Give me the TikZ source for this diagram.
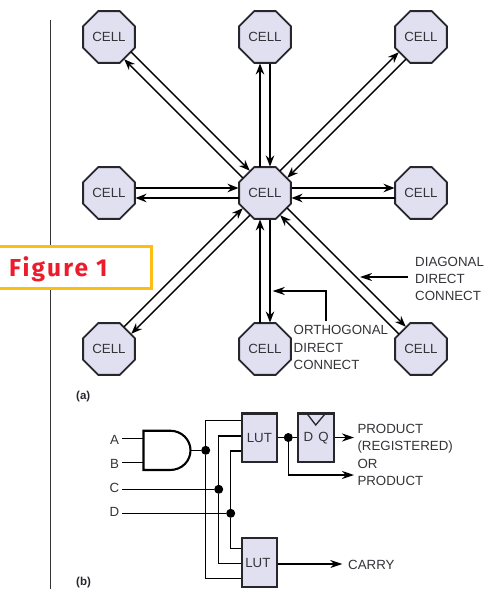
\documentclass[tikz,border=0pt]{standalone}
\usepackage{xcolor}
\usepackage{fontspec}
\setmainfont{Liberation Sans}
\newfontfamily\figfont{Fira Sans}
\usepackage{tikz}
\usetikzlibrary{arrows.meta}
\usetikzlibrary{calc}
\usetikzlibrary{shapes.geometric}

\definecolor{cellfill}{HTML}{E0E0F0}
\definecolor{inkline}{HTML}{26262C}
\definecolor{inktext}{HTML}{333338}
\definecolor{figyellow}{HTML}{FDBE14}
\definecolor{figred}{HTML}{EC1C2C}

\tikzset{
  cell/.style={regular polygon,regular polygon sides=8,draw=inkline,fill=cellfill,line width=1.8pt,
    minimum size=56pt,inner sep=0pt,text=inktext,font=\fontsize{13.3}{15}\selectfont},
  lut/.style={rectangle,draw=inkline,fill=cellfill,line width=2.1pt,minimum width=35.5pt,minimum height=48.5pt,
    inner sep=0pt,text=inktext,font=\fontsize{13.3}{15}\selectfont},
  link/.style={draw=black,line width=1.5pt,-{Stealth[length=11pt,width=8.5pt]},shorten >=26.5pt,shorten <=26.5pt},
  wire/.style={draw=black,line width=1.4pt},
  feed/.style={wire,-{Stealth[length=12pt,width=8pt]}},
  dot/.style={circle,fill=black,inner sep=0pt,minimum size=9pt},
  txt/.style={inner sep=0pt,anchor=west,align=left,text=inktext,font=\fontsize{13.3}{17.4}\selectfont},
  tag/.style={inner sep=0pt,anchor=west,text=inkline,font=\fontsize{11.5}{13}\selectfont\bfseries},
}

\begin{document}
\begin{tikzpicture}[x=1pt,y=1pt]
\useasboundingbox (0,0) rectangle (486,-589);
\draw[line width=0.7pt,color=inktext] (50.7,-20) -- (50.7,-589);

\node[cell] (cnw) at (109,-37) {CELL};
\node[cell] (cn) at (265,-37) {CELL};
\node[cell] (cne) at (421,-37) {CELL};
\node[cell] (cw) at (109,-193) {CELL};
\node[cell] (cc) at (265,-193) {CELL};
\node[cell] (ce) at (421,-193) {CELL};
\node[cell] (csw) at (109,-349) {CELL};
\node[cell] (cs) at (265,-349) {CELL};
\node[cell] (cse) at (421,-349) {CELL};

\foreach \cname in {cnw,cn,cne,cw,ce,csw,cs,cse}{
  \draw[link] ($(\cname)!5pt!90:(cc)$) -- ($(cc)!5pt!-90:(\cname)$);
  \draw[link] ($(cc)!5pt!90:(\cname)$) -- ($(\cname)!5pt!-90:(cc)$);
}

\node[txt] (diagtxt) at (415,-279) {DIAGONAL\\DIRECT\\CONNECT};
\node[txt] (orthtxt) at (293.5,-347.5) {ORTHOGONAL\\DIRECT\\CONNECT};
\coordinate (diagend) at (408,-277);
\coordinate (diagtip) at (360,-277);
\coordinate (orthend) at (326,-321);
\coordinate (orthtip) at (272.7,-291);
\draw[feed] (diagend) -- (diagtip);
\draw[feed] (orthend) |- (orthtip);

% figure tag
\node[rectangle,draw=figyellow,fill=white,line width=3pt,minimum width=160pt,minimum height=42pt,inner sep=0pt] (figbox) at (71,-267) {};
\node[inner sep=0pt,anchor=base west,text=figred,font=\figfont\fontsize{24.5}{26}\selectfont\bfseries\addfontfeatures{LetterSpace=9}] (figtxt) at (9,-276) {Figure 1};

\node[tag] (taga) at (76,-397) {(a)};
\node[tag] (tagb) at (76,-583) {(b)};

% part b
\node[lut] (luta) at (259.4,-437.7) {LUT};
\node[lut] (lutb) at (259.4,-562.5) {\hspace*{-3pt}LUT};
\node[lut,minimum width=35.4pt] (dff) at (316,-437.7) {};
\node[inner sep=0pt,text=inktext,font=\fontsize{13.3}{15}\selectfont] (dffd) at (308.5,-437) {D};
\node[inner sep=0pt,text=inktext,font=\fontsize{13.3}{15}\selectfont] (dffq) at (323.5,-438) {Q};
\draw[draw=inkline,line width=1.3pt] (307.3,-414) -- (315.7,-425) -- (325,-414);

\node[txt,anchor=center] (ina) at (114.5,-440) {A};
\node[txt,anchor=center] (inb) at (114.5,-463.5) {B};
\node[txt,anchor=center] (inc) at (114.5,-488) {C};
\node[txt,anchor=center] (ind) at (114.5,-511.5) {D};

% and gate
\coordinate (gatea) at (143.5,-438.7);
\coordinate (gateb) at (143.5,-462.7);
\coordinate (gateo) at (190.5,-450.3);
\draw[draw=black,line width=2.1pt] (143.5,-430.7) -- (170,-430.7) .. controls (182,-430.7) and (190.5,-440) .. (gateo)
  .. controls (190.5,-461) and (182,-470) .. (170,-470) -- (143.5,-470) -- cycle;
\draw[wire] (122,-438.7) -- (gatea);
\draw[wire] (122,-462.7) -- (gateb);

\node[dot] (jgate) at (205.7,-450.3) {};
\node[dot] (jc) at (218.7,-489.3) {};
\node[dot] (jd) at (230.7,-513.3) {};
\node[dot] (jout) at (288.3,-437.5) {};

\draw[wire] (gateo) -- (jgate);
\draw[wire] (122,-489.3) -- (jc);
\draw[wire] (122,-513.3) -- (jd);

\draw[wire] (luta.west |- 0,-420.7) -| (jgate);
\draw[wire] (lutb.west |- 0,-578.3) -| (jgate);
\draw[wire] (luta.west |- 0,-436) -| (jc);
\draw[wire] (lutb.west |- 0,-563.3) -| (jc);
\draw[wire] (luta.west |- 0,-451) -| (jd);
\draw[wire] (lutb.west |- 0,-548.3) -| (jd);

\draw[wire] (luta.east |- jout) -- (jout);
\draw[wire] (jout) -- (dff.west |- jout);

\coordinate (prodtip) at (354,-437.5);
\coordinate (ortip) at (354,-475);
\coordinate (carrytip) at (342.3,-564);
\draw[feed] (dff.east |- prodtip) -- (prodtip);
\draw[feed] (jout) |- (ortip);
\draw[feed] (lutb.east |- carrytip) -- (carrytip);

\node[txt] (prodtxt) at (357.3,-455) {PRODUCT\\(REGISTERED)\\OR\\PRODUCT};
\node[txt] (carrytxt) at (348,-565) {CARRY};
\end{tikzpicture}
\end{document}
